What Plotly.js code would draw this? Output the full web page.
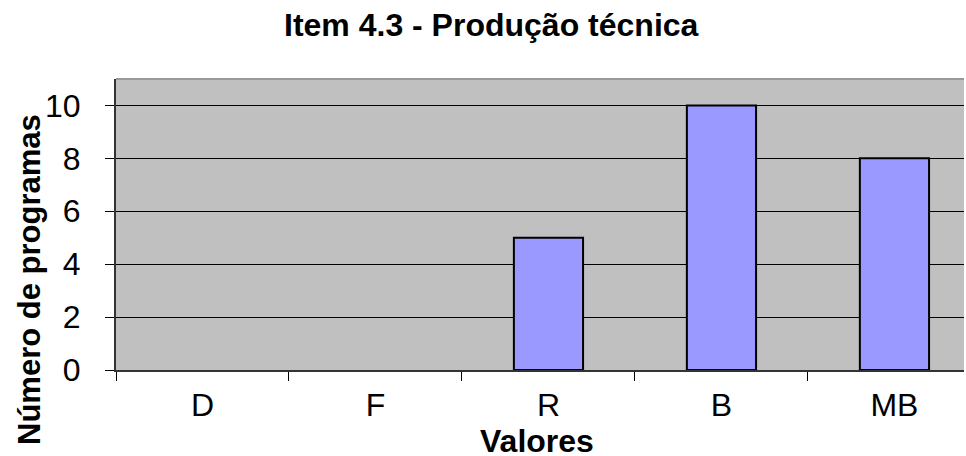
<!DOCTYPE html>
<html>
<head>
<meta charset="utf-8">
<script src="https://cdn.plot.ly/plotly-3.0.1.min.js"></script>
<style>html,body{margin:0;padding:0;background:#fff;}#chart{width:966px;height:456px;}</style>
</head>
<body>
<div id="chart"></div>
<script>
const categories = ["D", "F", "R", "B", "MB"];
const values = [0, 0, 5, 10, 8];
const yTicks = [0, 2, 4, 6, 8, 10];
const chartTitle = "Item 4.3 - Produção técnica";
const xTitle = "Valores";
const yTitle = "Número de programas";

const font = "Liberation Sans, Arial, sans-serif";

const trace = {
  type: "bar",
  x: categories,
  y: values,
  marker: { color: "#9999FF", line: { color: "#000000", width: values.map(v => (v > 0 ? 2 : 0)) } },
  hoverinfo: "x+y"
};

const layout = {
  width: 966,
  height: 456,
  margin: { l: 116, r: 2, t: 79, b: 86, pad: 0 },
  paper_bgcolor: "#FFFFFF",
  plot_bgcolor: "#C0C0C0",
  font: { family: font, color: "#000000", size: 32 },
  bargap: 0.6,
  showlegend: false,
  xaxis: {
    type: "category",
    range: [-0.5, 4.402],
    tickson: "boundaries",
    ticks: "outside",
    ticklen: 9,
    tickwidth: 1,
    tickcolor: "#000000",
    showgrid: false,
    showline: true,
    linecolor: "#333333",
    linewidth: 2,
    zeroline: false,
    ticklabelstandoff: 6,
    tickfont: { family: font, size: 32, color: "#000000" },
    fixedrange: true
  },
  yaxis: {
    range: [0, 11],
    tickvals: yTicks,
    ticktext: yTicks.map(String),
    ticks: "outside",
    ticklen: 9,
    tickwidth: 1,
    tickcolor: "#000000",
    showgrid: true,
    gridcolor: "#000000",
    gridwidth: 1,
    showline: true,
    linecolor: "#333333",
    linewidth: 2,
    zeroline: false,
    ticklabelstandoff: 18,
    tickfont: { family: font, size: 32, color: "#000000" },
    fixedrange: true
  },
  shapes: [
    { type: "line", xref: "paper", yref: "paper", x0: 0, x1: 1, y0: 1, y1: 1,
      line: { color: "#999999", width: 2 } }
  ],
  annotations: [
    { text: "<b>" + chartTitle + "</b>", xref: "paper", yref: "paper",
      x: (491.5 - 116) / 848, y: (370 - 25) / 291, xanchor: "center", yanchor: "middle",
      showarrow: false, font: { family: font, size: 32, color: "#000000" } },
    { text: "<b>" + xTitle + "</b>", xref: "paper", yref: "paper",
      x: (537 - 116) / 848, y: (370 - 441) / 291, xanchor: "center", yanchor: "middle",
      showarrow: false, font: { family: font, size: 32, color: "#000000" } },
    { text: "<b>" + yTitle + "</b>", xref: "paper", yref: "paper",
      x: (29 - 116) / 848, y: (370 - 280) / 291, xanchor: "center", yanchor: "middle",
      textangle: -90, showarrow: false, font: { family: font, size: 31, color: "#000000" } }
  ]
};

Plotly.newPlot("chart", [trace], layout, { displayModeBar: false, staticPlot: true });
</script>
</body>
</html>
